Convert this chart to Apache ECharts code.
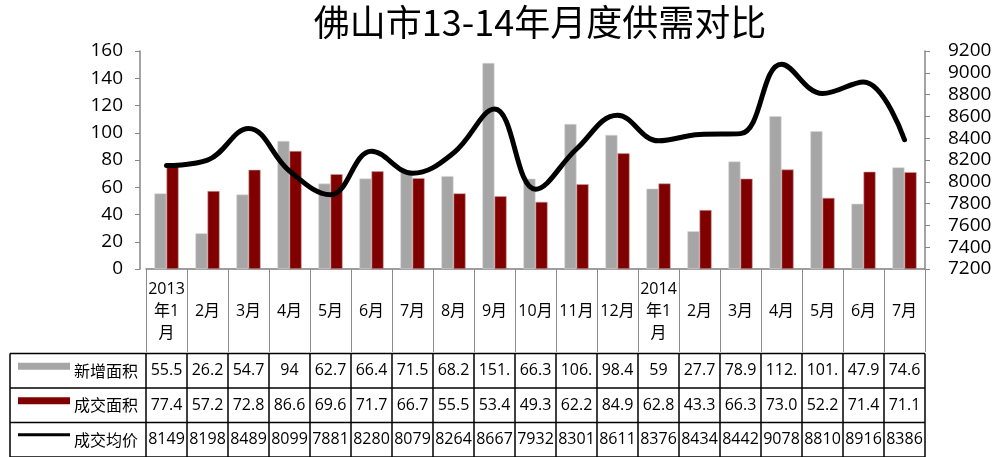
<!DOCTYPE html>
<html>
<head>
<meta charset="utf-8">
<script src="https://cdn.jsdelivr.net/npm/echarts@6/dist/echarts.min.js"></script>
<style>
  html, body { margin: 0; padding: 0; background: #fff; }
  #chart { width: 1005px; height: 457px; }
</style>
</head>
<body>
<div id="chart"></div>
<script>
// Monthly supply / demand data, Foshan, Jan 2013 – Jul 2014
const titleText = '佛山市13-14年月度供需对比';
const categories = ['2013\n年1\n月', '2月', '3月', '4月', '5月', '6月', '7月', '8月', '9月', '10月', '11月', '12月',
                    '2014\n年1\n月', '2月', '3月', '4月', '5月', '6月', '7月'];
const seriesNames = ['新增面积', '成交面积', '成交均价'];
const newArea  = [55.5, 26.2, 54.7, 94, 62.7, 66.4, 71.5, 68.2, 151.2, 66.3, 106.4, 98.4, 59, 27.7, 78.9, 112.2, 101.1, 47.9, 74.6];
const dealArea = [77.4, 57.2, 72.8, 86.6, 69.6, 71.7, 66.7, 55.5, 53.4, 49.3, 62.2, 84.9, 62.8, 43.3, 66.3, 73.0, 52.2, 71.4, 71.1];
const avgPrice = [8149, 8198, 8489, 8099, 7881, 8280, 8079, 8264, 8667, 7932, 8301, 8611, 8376, 8434, 8442, 9078, 8810, 8916, 8386];

const FONT = "'Open Sans','Noto Sans CJK SC',sans-serif";
const CJK = "'Noto Sans CJK SC',sans-serif";
const GREY = '#a6a6a6';
const RED = '#800000';

// data table cells only fit four characters
const fit = s => s.length > 4 ? s.slice(0, 4) : s;
const tableRows = [
  { name: seriesNames[0], cells: newArea.map(v => fit(String(v))) },
  { name: seriesNames[1], cells: dealArea.map(v => fit(v.toFixed(1))) },
  { name: seriesNames[2], cells: avgPrice.map(v => fit(String(v))) }
];

const chart = echarts.init(document.getElementById('chart'));

chart.setOption({
  animation: false,
  grid: { left: 146, right: 80, top: 51, bottom: 188 },
  xAxis: {
    type: 'category',
    data: categories,
    boundaryGap: true,
    axisLine: { lineStyle: { color: '#7f7f7f', width: 1.5 } },
    axisTick: { show: true, interval: 0, length: 83, lineStyle: { color: '#8c8c8c', width: 1 } },
    axisLabel: {
      interval: 0, margin: 42, verticalAlign: 'middle', align: 'center',
      fontSize: 16, lineHeight: 22, color: '#000', fontFamily: FONT
    }
  },
  yAxis: [
    {
      type: 'value', min: 0, max: 160, interval: 20, offset: 6,
      axisLine: { show: true, lineStyle: { color: '#868686', width: 1.5 } },
      axisTick: { show: true, length: 5, lineStyle: { color: '#868686' } },
      splitLine: { show: false },
      axisLabel: { fontSize: 19, color: '#000', margin: 17, fontFamily: FONT }
    },
    {
      type: 'value', min: 7200, max: 9200, interval: 200, position: 'right',
      axisLine: { show: true, lineStyle: { color: '#868686', width: 1.5 } },
      axisTick: { show: true, length: 5, lineStyle: { color: '#868686' } },
      splitLine: { show: false },
      axisLabel: { fontSize: 19, color: '#000', margin: 23, fontFamily: FONT, formatter: v => String(v) }
    }
  ],
  series: [
    {
      name: seriesNames[0], type: 'bar', data: newArea, yAxisIndex: 0,
      barGap: '0%', barCategoryGap: '41%',
      itemStyle: { color: GREY, borderColor: '#d6d6d6', borderWidth: 0.6 }
    },
    {
      name: seriesNames[1], type: 'bar', data: dealArea, yAxisIndex: 0,
      barGap: '0%', barCategoryGap: '41%',
      itemStyle: { color: RED, borderColor: '#c9a0a0', borderWidth: 0.6 }
    },
    {
      name: seriesNames[2], type: 'line', data: avgPrice, yAxisIndex: 1,
      smooth: 0.4, symbol: 'none', z: 5,
      lineStyle: { color: '#000', width: 5, cap: 'round', join: 'round' }
    }
  ]
});

// Title and data table drawn below the category axis
const rowTop = 353.5, rowH = 34.5;
const tableLeft = 10;
const xs = categories.map((_, i) => chart.convertToPixel({ xAxisIndex: 0 }, i));
const band = xs.length > 1 ? xs[1] - xs[0] : 41;
const edges = xs.map(x => x - band / 2).concat([xs[xs.length - 1] + band / 2]);
const tableRight = edges[edges.length - 1];
const tableBottom = rowTop + rowH * tableRows.length;

const g = [];
g.push({
  type: 'text', x: 540, y: 22,
  style: { text: titleText, font: '36px ' + CJK, fill: '#000', textAlign: 'center', textVerticalAlign: 'middle' }
});

const lineStyle = { stroke: '#000', lineWidth: 1.5 };
for (let r = 0; r <= tableRows.length; r++) {
  const y = rowTop + r * rowH;
  g.push({ type: 'line', shape: { x1: tableLeft, y1: y, x2: tableRight, y2: y }, style: lineStyle });
}
g.push({ type: 'line', shape: { x1: tableLeft, y1: rowTop, x2: tableLeft, y2: tableBottom }, style: lineStyle });
edges.forEach(x => {
  g.push({ type: 'line', shape: { x1: x, y1: rowTop, x2: x, y2: tableBottom }, style: lineStyle });
});

tableRows.forEach((row, r) => {
  const cy = rowTop + r * rowH + rowH / 2;
  // legend key
  if (r === 0) g.push({ type: 'rect', shape: { x: 18, y: cy - 8, width: 52, height: 7 }, style: { fill: GREY } });
  if (r === 1) g.push({ type: 'rect', shape: { x: 18, y: cy - 8, width: 52, height: 7 }, style: { fill: RED } });
  if (r === 2) g.push({ type: 'line', shape: { x1: 18, y1: cy - 5, x2: 70, y2: cy - 5 }, style: { stroke: '#000', lineWidth: 3 } });
  g.push({
    type: 'text', x: 138, y: cy,
    style: { text: row.name, font: '16px ' + CJK, fill: '#000', textAlign: 'right', textVerticalAlign: 'middle' }
  });
  row.cells.forEach((t, i) => {
    g.push({
      type: 'text', x: xs[i], y: cy,
      style: { text: t, font: '16px ' + FONT, fill: '#000', textAlign: 'center', textVerticalAlign: 'middle' }
    });
  });
});

chart.setOption({ graphic: g });
</script>
</body>
</html>
